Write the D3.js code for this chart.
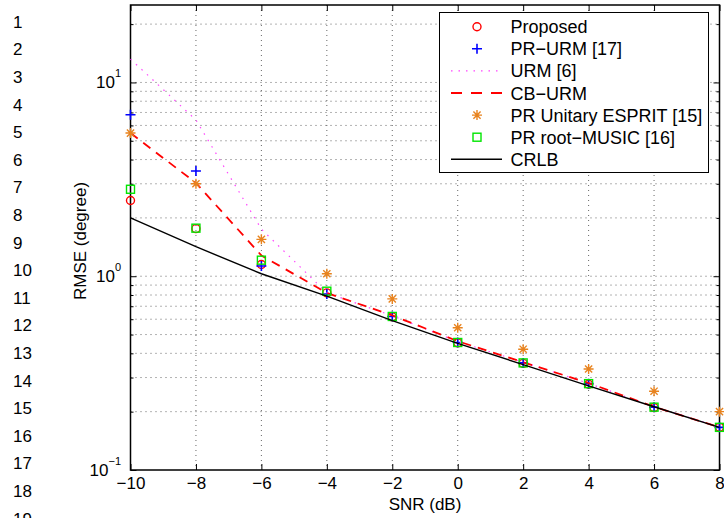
<!DOCTYPE html>
<html>
<head>
<meta charset="utf-8">
<script src="https://cdn.jsdelivr.net/npm/d3@7"></script>
<style>
  body { margin: 0; background: #fff; }
  svg { display: block; font-family: "Liberation Sans", Arial, sans-serif; }
</style>
</head>
<body>
<div id="chart"></div>
<script>
// values
const snr = [-10, -8, -6, -4, -2, 0, 2, 4, 6, 8];
const proposed  = [2.46, 1.76, 1.15, 0.82, 0.617, 0.453, 0.355, 0.277, 0.21, 0.166];
const prUrm     = [6.81, 3.49, 1.13, 0.81, 0.62, 0.455, 0.357, 0.279, 0.211, 0.166];
const urm       = [13.2, 6.4, 1.75, 0.82, 0.625, 0.46, 0.36, 0.28, 0.212, 0.167];
const cbUrm     = [5.48, 3.03, 1.28, 0.82, 0.628, 0.462, 0.36, 0.281, 0.212, 0.166];
const esprit    = [5.48, 3.0, 1.55, 1.03, 0.764, 0.542, 0.42, 0.332, 0.255, 0.2];
const rootMusic = [2.81, 1.77, 1.21, 0.837, 0.62, 0.455, 0.357, 0.279, 0.211, 0.166];
const crlb      = [2.0, 1.42, 1.03, 0.79, 0.59, 0.45, 0.35, 0.272, 0.212, 0.166];

const xTicks = [-10, -8, -6, -4, -2, 0, 2, 4, 6, 8];
const yMajor = [0.1, 1, 10];
const yLabels = [["10", "\u22121"], ["10", "0"], ["10", "1"]];
const yMinor = [0.2, 0.3, 0.4, 0.5, 0.6, 0.7, 0.8, 0.9, 2, 3, 4, 5, 6, 7, 8, 9, 20];
const lineNumbers = [1, 2, 3, 4, 5, 6, 7, 8, 9, 10, 11, 12, 13, 14, 15, 16, 17, 18, 19];

const width = 724;
const height = 518;
const margin = { top: 5, bottom: 48, left: 130.5, right: 4.5 };

const svg = d3.select('#chart')
    .append('svg')
    .attr('width', width)
    .attr('height', height);

const x = d3.scaleLinear()
    .domain([-10, 8])
    .range([margin.left, width - margin.right]);

const y = d3.scaleLog()
    .domain([0.1, 25.1])
    .range([height - margin.bottom, margin.top]);

// line numbers of the page
const ln = d3.scaleLinear().domain([1, 19]).range([21.7, 21.7 + 18 * 27.6]);
svg.append('g')
    .selectAll('text')
    .data(lineNumbers)
    .join('text')
        .attr('x', 13)
        .attr('y', d => ln(d) + 6)
        .attr('font-size', 17)
        .text(d => d);

// grid
const grid = svg.append('g')
    .attr('stroke', '#666')
    .attr('stroke-width', 1)
    .attr('stroke-dasharray', '1,4');

grid.selectAll('.gx')
    .data(xTicks.slice(1, -1))
    .join('line')
        .attr('x1', d => x(d)).attr('x2', d => x(d))
        .attr('y1', margin.top).attr('y2', height - margin.bottom);

grid.selectAll('.gy')
    .data(yMajor.concat(yMinor).filter(d => d > 0.1))
    .join('line')
        .attr('x1', margin.left).attr('x2', width - margin.right)
        .attr('y1', d => y(d)).attr('y2', d => y(d));

// axes with inward ticks
function styleAxis(g) {
    g.select('.domain').remove();
    g.selectAll('.tick line').attr('stroke', '#000').attr('stroke-width', 1);
}

svg.append('g')
    .attr('transform', `translate(0, ${height - margin.bottom})`)
    .call(d3.axisBottom(x).tickValues(xTicks).tickSize(-6).tickPadding(7))
    .call(styleAxis)
    .call(g => g.selectAll('text')
        .attr('font-size', 17)
        .attr('font-family', '"Liberation Sans", Arial, sans-serif')
        .attr('fill', '#000'));

svg.append('g')
    .attr('transform', `translate(0, ${margin.top})`)
    .call(d3.axisTop(x).tickValues(xTicks).tickSize(-6).tickFormat(''))
    .call(styleAxis);

svg.append('g')
    .attr('transform', `translate(${margin.left}, 0)`)
    .call(d3.axisLeft(y).tickValues(yMajor).tickSize(-6).tickFormat(''))
    .call(styleAxis);
svg.append('g')
    .attr('transform', `translate(${margin.left}, 0)`)
    .call(d3.axisLeft(y).tickValues(yMinor).tickSize(-3).tickFormat(''))
    .call(styleAxis);
svg.append('g')
    .attr('transform', `translate(${width - margin.right}, 0)`)
    .call(d3.axisRight(y).tickValues(yMajor).tickSize(-6).tickFormat(''))
    .call(styleAxis);
svg.append('g')
    .attr('transform', `translate(${width - margin.right}, 0)`)
    .call(d3.axisRight(y).tickValues(yMinor).tickSize(-3).tickFormat(''))
    .call(styleAxis);

// y tick labels 10^n
const yl = svg.append('g')
    .selectAll('text')
    .data(yMajor)
    .join('text')
        .attr('x', 121)
        .attr('y', d => y(d) + 6)
        .attr('text-anchor', 'end')
        .attr('font-size', 17);
yl.append('tspan').text((d, i) => yLabels[i][0]);
yl.append('tspan').attr('dy', -11).attr('font-size', 11).text((d, i) => yLabels[i][1]);

// box
svg.append('rect')
    .attr('x', margin.left).attr('y', margin.top)
    .attr('width', width - margin.right - margin.left)
    .attr('height', height - margin.bottom - margin.top)
    .attr('fill', 'none')
    .attr('stroke', '#000')
    .attr('stroke-width', 1.5);

// axis labels
svg.append('text')
    .attr('x', (margin.left + width - margin.right) / 2)
    .attr('y', 510)
    .attr('text-anchor', 'middle')
    .attr('font-size', 17)
    .text('SNR (dB)');

svg.append('text')
    .attr('transform', 'translate(86, 241) rotate(-90)')
    .attr('text-anchor', 'middle')
    .attr('font-size', 17)
    .text('RMSE (degree)');

// series
const series = [
    { name: 'Proposed', values: proposed, color: '#ff0000', marker: 'circle' },
    { name: 'PR\u2212URM [17]', values: prUrm, color: '#0000ff', marker: 'plus' },
    { name: 'URM [6]', values: urm, color: '#ff44ff', line: '1.5,6', width: 1.2 },
    { name: 'CB\u2212URM', values: cbUrm, color: '#ff0000', line: '9,7', width: 1.8 },
    { name: 'PR Unitary ESPRIT [15]', values: esprit, color: '#e8831e', marker: 'star' },
    { name: 'PR root\u2212MUSIC [16]', values: rootMusic, color: '#00e600', marker: 'square' },
    { name: 'CRLB', values: crlb, color: '#000000', line: 'none', width: 1.4 }
];

function drawMarker(g, type, color) {
    g.attr('fill', 'none').attr('stroke', color).attr('stroke-width', 1.4);
    if (type === 'circle') g.append('circle').attr('r', 4);
    if (type === 'square') g.append('rect').attr('x', -4).attr('y', -4).attr('width', 8).attr('height', 8);
    if (type === 'plus') g.append('path').attr('d', 'M-5,0H5M0,-5V5').attr('stroke-width', 1.6);
    if (type === 'star') g.append('path').attr('d', 'M-5,0H5M0,-5V5M-3.6,-3.6L3.6,3.6M-3.6,3.6L3.6,-3.6').attr('stroke-width', 1.4);
}

const line = d3.line().x((d, i) => x(snr[i])).y(d => y(d));

series.forEach(s => {
    if (s.line) {
        svg.append('path')
            .datum(s.values)
            .attr('d', line)
            .attr('fill', 'none')
            .attr('stroke', s.color)
            .attr('stroke-width', s.width)
            .attr('stroke-dasharray', s.line);
    }
    if (s.marker) {
        svg.append('g')
            .selectAll('g')
            .data(s.values)
            .join('g')
                .attr('transform', (d, i) => `translate(${x(snr[i])}, ${y(d)})`)
                .each(function() { drawMarker(d3.select(this), s.marker, s.color); });
    }
});

// legend
const legend = svg.append('g');
legend.append('rect')
    .attr('x', 439.5).attr('y', 12.5)
    .attr('width', 269).attr('height', 160)
    .attr('fill', '#fff')
    .attr('stroke', '#000')
    .attr('stroke-width', 1);

const row = d3.scaleLinear().domain([0, 6]).range([26.7, 159.3]);
series.forEach((s, i) => {
    const ry = row(i);
    if (s.line) {
        legend.append('line')
            .attr('x1', 451).attr('x2', 502)
            .attr('y1', ry).attr('y2', ry)
            .attr('stroke', s.color)
            .attr('stroke-width', s.width)
            .attr('stroke-dasharray', s.line === '9,7' ? '11,9' : s.line);
    }
    if (s.marker) {
        const g = legend.append('g').attr('transform', `translate(477, ${ry})`);
        drawMarker(g, s.marker, s.color);
    }
    legend.append('text')
        .attr('x', 510.5)
        .attr('y', ry + 6.5)
        .attr('font-size', 18)
        .text(s.name);
});
</script>
</body>
</html>
